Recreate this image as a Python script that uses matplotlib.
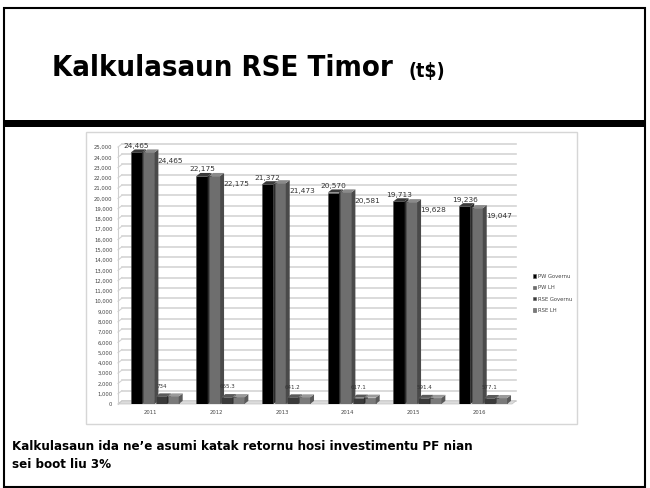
"""
Kalkulasaun RSE Timor slide: 3D-style clustered column chart.
"""
import matplotlib
matplotlib.use("Agg")
import matplotlib.pyplot as plt
from matplotlib.patches import Rectangle, Polygon
import numpy as np

years = ["2011", "2012", "2013", "2014", "2015", "2016"]
pw_governu = [24465, 22175, 21372, 20570, 19713, 19236]
pw_lh = [24465, 22175, 21473, 20581, 19628, 19047]
rse_governu = [734, 665.3, 641.2, 617.1, 591.4, 577.1]
rse_lh = [734, 665.3, 641.2, 617.1, 591.4, 577.1]
rse_labels = ["734", "665.3", "641.2", "617.1", "591.4", "577.1"]
series_names = ["PW Governu", "PW LH", "RSE Governu", "RSE LH"]
series_colors = ["#000000", "#6e6e6e", "#3a3a3a", "#7a7a7a"]

fig = plt.figure(figsize=(6.5, 4.88), dpi=100)
W, H = 650, 488


def fx(px):
    return px / W


def fy(py):
    return 1 - py / H


# Slide frame and title box
fig.patches.append(Rectangle((fx(4), fy(487)), fx(641), fy(8) - fy(487),
                             transform=fig.transFigure, fill=False,
                             edgecolor="black", linewidth=1.5))
fig.patches.append(Rectangle((fx(4), fy(127)), fx(641), fy(120) - fy(127),
                             transform=fig.transFigure, facecolor="black",
                             edgecolor="none"))
fig.text(fx(52), fy(68), "Kalkulasaun RSE Timor", fontsize=21,
         fontweight="bold", fontstretch="condensed", va="center",
         ha="left", family="DejaVu Sans")
fig.text(fx(408), fy(72), "(t$)", fontsize=14, fontweight="bold",
         fontstretch="condensed", va="center", ha="left",
         family="DejaVu Sans")

# Chart picture frame
fig.patches.append(Rectangle((fx(86), fy(424)), fx(577 - 86), fy(132) - fy(424),
                             transform=fig.transFigure, fill=False,
                             edgecolor="#d6d6d6", linewidth=1))

# Caption
fig.text(fx(12), fy(446), "Kalkulasaun ida ne\u2019e asumi katak retornu hosi investimentu PF nian",
         fontsize=9.5, fontweight="bold", fontstretch="condensed",
         va="center", ha="left")
fig.text(fx(12), fy(464), "sei boot liu 3%", fontsize=9.5, fontweight="bold",
         fontstretch="condensed", va="center", ha="left")

# Chart axes
ax = fig.add_axes([fx(118), fy(404), fx(512 - 118), fy(147) - fy(404)])
ax.set_xlim(-0.5, 5.5)
ax.set_ylim(0, 25000)
x = np.arange(len(years))

dx, dy = 0.06, 300
for v in range(0, 25001, 1000):
    ax.plot([-0.5 + dx, 5.5 + dx], [v + dy, v + dy], color="#d4d4d4",
            linewidth=1.2, zorder=0, clip_on=False)
    ax.plot([-0.5, -0.5 + dx], [v, v + dy], color="#d4d4d4",
            linewidth=0.8, zorder=0, clip_on=False)

# floor
ax.add_patch(Polygon([(-0.5, 0), (5.5, 0), (5.5 + dx, dy), (-0.5 + dx, dy)],
                     closed=True, facecolor="#dcdcdc", edgecolor="#c0c0c0",
                     linewidth=0.5, zorder=1, clip_on=False))

offsets = [-0.22, -0.03, 0.16, 0.34]
width = 0.17
side_colors = ["#2b2b2b", "#4a4a4a", "#2a2a2a", "#5a5a5a"]
top_colors = ["#3a3a3a", "#8a8a8a", "#5a5a5a", "#9a9a9a"]
all_series = [pw_governu, pw_lh, rse_governu, rse_lh]
for s, vals in enumerate(all_series):
    xs = x + offsets[s]
    ax.bar(xs, vals, width=width, color=series_colors[s],
           edgecolor="#555555", linewidth=0.4, zorder=3 + s,
           label=series_names[s])
    for xi, v in zip(xs, vals):
        l, r = xi - width / 2, xi + width / 2
        ax.add_patch(Polygon([(r, 0), (r + dx, dy), (r + dx, v + dy), (r, v)],
                             closed=True, facecolor=side_colors[s],
                             edgecolor="none", zorder=3 + s, clip_on=False))
        ax.add_patch(Polygon([(l, v), (r, v), (r + dx, v + dy), (l + dx, v + dy)],
                             closed=True, facecolor=top_colors[s],
                             edgecolor="none", zorder=3 + s, clip_on=False))

# data labels
for i in range(len(years)):
    ax.text(x[i] + offsets[0], pw_governu[i] + 650, f"{pw_governu[i]:,}",
            ha="center", va="center", fontsize=5.3, color="#333333",
            zorder=10)
    ax.text(x[i] + offsets[1] + width / 2 + 0.05, pw_lh[i] - 800,
            f"{pw_lh[i]:,}", ha="left", va="center", fontsize=5.3,
            color="#333333", zorder=10)
    ax.text(x[i] + offsets[2], rse_governu[i] + 1000, rse_labels[i],
            ha="center", va="center", fontsize=4, color="#333333",
            zorder=10)

ax.set_xticks(x)
ax.set_xticklabels(years, fontsize=3.8, color="#444444")
ax.set_yticks(range(0, 25001, 1000))
ax.set_yticklabels([f"{v:,}" for v in range(0, 25001, 1000)], fontsize=3.8,
                   color="#444444")
ax.tick_params(length=0, pad=4)
for side in ["top", "right", "bottom"]:
    ax.spines[side].set_visible(False)
ax.spines["left"].set_color("#cfcfcf")
ax.patch.set_alpha(0)

leg = ax.legend(loc="center left", bbox_to_anchor=(fx(530 - 118) / fx(512 - 118), 0.43),
                frameon=False, fontsize=3.8, handlelength=0.6, handleheight=0.6,
                handletextpad=0.4, labelspacing=1.2, borderpad=0)
for t in leg.get_texts():
    t.set_color("#444444")

fig.savefig("out.png", dpi=100)
